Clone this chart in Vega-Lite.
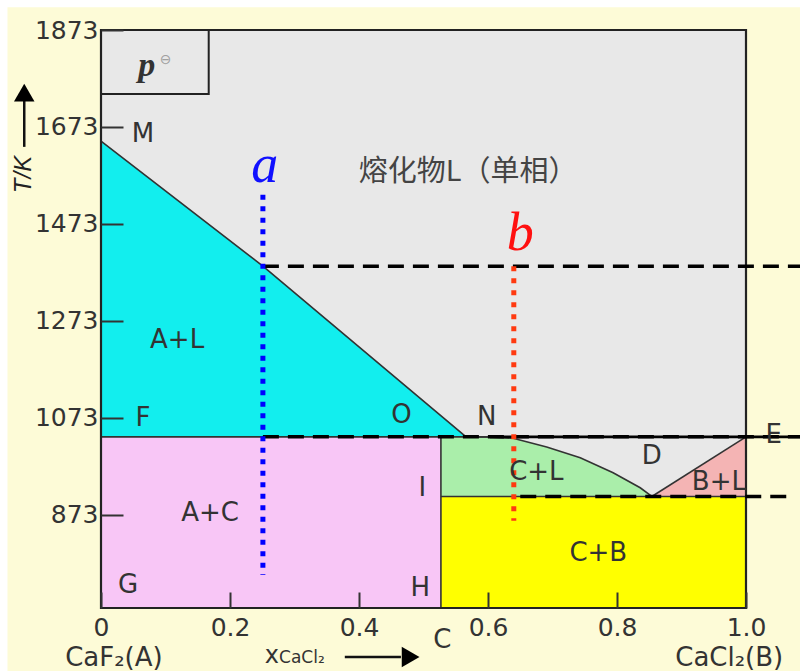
{
  "$schema": "https://vega.github.io/schema/vega-lite/v6.json",
  "autosize": "none",
  "width": 645,
  "height": 578,
  "padding": {"left": 101, "top": 30, "right": 54, "bottom": 63},
  "background": "#ffffff",
  "config": {
    "view": {"stroke": null},
    "axis": {
      "grid": false,
      "domain": false,
      "labelFont": "DejaVu Sans",
      "labelColor": "#333333",
      "labelFlush": false,
      "labelOverlap": false,
      "tickColor": "#333333",
      "tickWidth": 2,
      "title": null
    }
  },
  "datasets": {
    "blocks": [
      {"region": "paper", "x": -0.145, "x2": 1.09, "t": 1920, "t2": 530},
      {"region": "L", "x": 0, "x2": 1, "t": 681, "t2": 1873},
      {"region": "A+C", "x": 0, "x2": 0.527, "t": 681, "t2": 1034},
      {"region": "C+B", "x": 0.527, "x2": 1, "t": 681, "t2": 911}
    ],
    "areas": [
      {"region": "A+L", "x": 0, "t": 1644, "t2": 1034},
      {"region": "A+L", "x": 0.251, "t": 1386, "t2": 1034},
      {"region": "A+L", "x": 0.566, "t": 1034, "t2": 1034},
      {"region": "C+L", "x": 0.527, "t": 1034, "t2": 911},
      {"region": "C+L", "x": 0.6, "t": 1034, "t2": 911},
      {"region": "C+L", "x": 0.639, "t": 1031, "t2": 911},
      {"region": "C+L", "x": 0.691, "t": 1013, "t2": 911},
      {"region": "C+L", "x": 0.743, "t": 991, "t2": 911},
      {"region": "C+L", "x": 0.794, "t": 960, "t2": 911},
      {"region": "C+L", "x": 0.836, "t": 929, "t2": 911},
      {"region": "C+L", "x": 0.854, "t": 911, "t2": 911},
      {"region": "B+L", "x": 0.854, "t": 911, "t2": 911},
      {"region": "B+L", "x": 1.0, "t": 1034, "t2": 911}
    ],
    "edges": [
      {"seg": "liquidus A", "k": 1, "x": 0, "t": 1644},
      {"seg": "liquidus A", "k": 2, "x": 0.251, "t": 1386},
      {"seg": "liquidus A", "k": 3, "x": 0.566, "t": 1034},
      {"seg": "liquidus C", "k": 1, "x": 0.566, "t": 1034},
      {"seg": "liquidus C", "k": 2, "x": 0.6, "t": 1034},
      {"seg": "liquidus C", "k": 3, "x": 0.639, "t": 1031},
      {"seg": "liquidus C", "k": 4, "x": 0.691, "t": 1013},
      {"seg": "liquidus C", "k": 5, "x": 0.743, "t": 991},
      {"seg": "liquidus C", "k": 6, "x": 0.794, "t": 960},
      {"seg": "liquidus C", "k": 7, "x": 0.836, "t": 929},
      {"seg": "liquidus C", "k": 8, "x": 0.854, "t": 911},
      {"seg": "liquidus B", "k": 1, "x": 0.854, "t": 911},
      {"seg": "liquidus B", "k": 2, "x": 1.0, "t": 1034},
      {"seg": "eutectic upper", "k": 1, "x": 0, "t": 1034},
      {"seg": "eutectic upper", "k": 2, "x": 1.0, "t": 1034},
      {"seg": "eutectic lower", "k": 1, "x": 0.527, "t": 911},
      {"seg": "eutectic lower", "k": 2, "x": 1.0, "t": 911},
      {"seg": "compound C", "k": 1, "x": 0.527, "t": 681},
      {"seg": "compound C", "k": 2, "x": 0.527, "t": 1034}
    ],
    "dashes": [
      {"seg": "a liquidus", "x": 0.251, "t": 1386},
      {"seg": "a liquidus", "x": 1.084, "t": 1386},
      {"seg": "upper eutectic", "x": 0.251, "t": 1034},
      {"seg": "upper eutectic", "x": 1.084, "t": 1034},
      {"seg": "lower eutectic", "x": 0.65, "t": 911},
      {"seg": "lower eutectic", "x": 1.066, "t": 911}
    ],
    "heavy": [
      {"x": 0.603, "t": 1034},
      {"x": 1.084, "t": 1034}
    ],
    "pathA": [
      {"x": 0.251, "t": 1533},
      {"x": 0.251, "t": 749}
    ],
    "pathB": [
      {"x": 0.64, "t": 1386},
      {"x": 0.64, "t": 861}
    ],
    "tags": [
      {"label": "M", "x": 0.065, "t": 1658},
      {"label": "A+L", "x": 0.118, "t": 1234},
      {"label": "F", "x": 0.065, "t": 1073},
      {"label": "O", "x": 0.466, "t": 1079},
      {"label": "N", "x": 0.598, "t": 1075},
      {"label": "A+C", "x": 0.169, "t": 877},
      {"label": "I", "x": 0.498, "t": 929},
      {"label": "G", "x": 0.042, "t": 729},
      {"label": "H", "x": 0.495, "t": 723},
      {"label": "C+L", "x": 0.675, "t": 962},
      {"label": "D", "x": 0.854, "t": 995},
      {"label": "B+L", "x": 0.958, "t": 941},
      {"label": "E", "x": 1.043, "t": 1038},
      {"label": "C+B", "x": 0.771, "t": 795},
      {"label": "C", "x": 0.529, "t": 615},
      {"label": "CaF₂(A)", "x": 0.02, "t": 578},
      {"label": "CaCl₂(B)", "x": 0.974, "t": 578}
    ],
    "melt": [
      {"label": "熔化物L（单相）", "x": 0.569, "t": 1580}
    ],
    "refbox": [
      {"x": 0, "x2": 0.167, "t": 1741, "t2": 1873}
    ]
  },
  "layer": [
    {
      "data": {"name": "blocks"},
      "mark": {"type": "rect"},
      "encoding": {
        "x": {"field": "x", "type": "quantitative",
          "scale": {"domain": [0, 1], "nice": false, "zero": false},
          "axis": {"values": [0, 0.2, 0.4, 0.6, 0.8, 1.0], "tickSize": -16, "labelPadding": 23, "labelFontSize": 25, "zindex": 2,
            "labelExpr": "datum.value == 0 ? '0' : format(datum.value, '.1f')"}},
        "x2": {"field": "x2"},
        "y": {"field": "t", "type": "quantitative",
          "scale": {"domain": [681, 1873], "nice": false, "zero": false},
          "axis": {"values": [873, 1073, 1273, 1473, 1673, 1873], "format": "d", "tickSize": -22, "labelPadding": 25, "labelFontSize": 25, "zindex": 2}},
        "y2": {"field": "t2"},
        "color": {"field": "region", "type": "nominal", "legend": null,
          "scale": {"domain": ["paper", "L", "A+L", "A+C", "C+L", "B+L", "C+B"],
            "range": ["#fdfbd7", "#e8e8e8", "#12eeee", "#f8c6f6", "#aaeeaa", "#f4b4b4", "#ffff00"]}}
      }
    },
    {
      "data": {"name": "areas"},
      "mark": {"type": "area", "opacity": 1},
      "encoding": {
        "x": {"field": "x", "type": "quantitative"},
        "y": {"field": "t", "type": "quantitative"},
        "y2": {"field": "t2"},
        "detail": {"field": "region"},
        "color": {"field": "region", "type": "nominal", "legend": null}
      }
    },
    {
      "data": {"name": "refbox"},
      "mark": {"type": "rect", "fill": "#e8e8e8", "stroke": "#222222", "strokeWidth": 2},
      "encoding": {
        "x": {"field": "x", "type": "quantitative"},
        "x2": {"field": "x2"},
        "y": {"field": "t", "type": "quantitative"},
        "y2": {"field": "t2"}
      }
    },
    {
      "data": {"name": "edges"},
      "mark": {"type": "line", "color": "#333333", "strokeWidth": 1.6},
      "encoding": {
        "x": {"field": "x", "type": "quantitative"},
        "y": {"field": "t", "type": "quantitative"},
        "detail": {"field": "seg"},
        "order": {"field": "k"}
      }
    },
    {
      "data": {"name": "refbox"},
      "mark": {"type": "rect", "fill": null, "fillOpacity": 0, "stroke": "#222222", "strokeWidth": 2.2},
      "encoding": {
        "x": {"datum": 0, "type": "quantitative"},
        "x2": {"datum": 1},
        "y": {"datum": 681, "type": "quantitative"},
        "y2": {"datum": 1873}
      }
    },
    {
      "data": {"name": "dashes"},
      "mark": {"type": "line", "color": "#000000", "strokeWidth": 3.5, "strokeDash": [16, 9]},
      "encoding": {
        "x": {"field": "x", "type": "quantitative"},
        "y": {"field": "t", "type": "quantitative"},
        "detail": {"field": "seg"}
      }
    },
    {
      "data": {"name": "heavy"},
      "mark": {"type": "line", "color": "#000000", "strokeWidth": 2.6},
      "encoding": {
        "x": {"field": "x", "type": "quantitative"},
        "y": {"field": "t", "type": "quantitative"}
      }
    },
    {
      "data": {"name": "pathA"},
      "mark": {"type": "line", "color": "#0000ff", "strokeWidth": 5, "strokeDash": [5, 6.5]},
      "encoding": {
        "x": {"field": "x", "type": "quantitative"},
        "y": {"field": "t", "type": "quantitative"}
      }
    },
    {
      "data": {"name": "pathB"},
      "mark": {"type": "line", "color": "#ff3a10", "strokeWidth": 5, "strokeDash": [5, 7]},
      "encoding": {
        "x": {"field": "x", "type": "quantitative"},
        "y": {"field": "t", "type": "quantitative"}
      }
    },
    {
      "data": {"name": "tags"},
      "mark": {"type": "text", "font": "DejaVu Sans", "fontSize": 26, "color": "#333333", "baseline": "middle", "align": "center"},
      "encoding": {
        "x": {"field": "x", "type": "quantitative"},
        "y": {"field": "t", "type": "quantitative"},
        "text": {"field": "label"}
      }
    },
    {
      "data": {"name": "melt"},
      "mark": {"type": "text", "font": "Noto Sans CJK SC", "fontSize": 29, "color": "#444444", "baseline": "middle", "align": "center"},
      "encoding": {
        "x": {"field": "x", "type": "quantitative"},
        "y": {"field": "t", "type": "quantitative"},
        "text": {"field": "label"}
      }
    },
    {
      "data": {"values": [{"label": "a", "x": 0.254, "t": 1560}]},
      "mark": {"type": "text", "font": "Liberation Serif", "fontStyle": "italic", "fontSize": 54, "color": "#1010ff", "baseline": "alphabetic", "align": "center"},
      "encoding": {
        "x": {"field": "x", "type": "quantitative"},
        "y": {"field": "t", "type": "quantitative"},
        "text": {"field": "label"}
      }
    },
    {
      "data": {"values": [{"label": "b", "x": 0.65, "t": 1419}]},
      "mark": {"type": "text", "font": "Liberation Serif", "fontStyle": "italic", "fontSize": 54, "color": "#ff1010", "baseline": "alphabetic", "align": "center"},
      "encoding": {
        "x": {"field": "x", "type": "quantitative"},
        "y": {"field": "t", "type": "quantitative"},
        "text": {"field": "label"}
      }
    },
    {
      "data": {"values": [{"label": "p", "x": 0.071, "t": 1778}]},
      "mark": {"type": "text", "font": "Liberation Serif", "fontStyle": "italic", "fontWeight": "bold", "fontSize": 34, "color": "#333333", "baseline": "alphabetic", "align": "center"},
      "encoding": {
        "x": {"field": "x", "type": "quantitative"},
        "y": {"field": "t", "type": "quantitative"},
        "text": {"field": "label"}
      }
    },
    {
      "data": {"values": [{"label": "⊖", "x": 0.1, "t": 1811}]},
      "mark": {"type": "text", "font": "DejaVu Sans", "fontSize": 14, "color": "#a0a0a0", "baseline": "middle", "align": "center"},
      "encoding": {
        "x": {"field": "x", "type": "quantitative"},
        "y": {"field": "t", "type": "quantitative"},
        "text": {"field": "label"}
      }
    },
    {
      "data": {"values": [{"label": "T/K", "x": -0.12, "t": 1575}]},
      "mark": {"type": "text", "font": "Liberation Sans", "fontStyle": "italic", "fontSize": 24, "color": "#222222", "baseline": "middle", "align": "center", "angle": 270},
      "encoding": {
        "x": {"field": "x", "type": "quantitative"},
        "y": {"field": "t", "type": "quantitative"},
        "text": {"field": "label"}
      }
    },
    {
      "data": {"values": [{"label": "x", "x": 0.265, "t": 581}]},
      "mark": {"type": "text", "font": "DejaVu Sans", "fontSize": 24, "color": "#333333", "baseline": "middle", "align": "center"},
      "encoding": {
        "x": {"field": "x", "type": "quantitative"},
        "y": {"field": "t", "type": "quantitative"},
        "text": {"field": "label"}
      }
    },
    {
      "data": {"values": [{"label": "CaCl₂", "x": 0.276, "t": 577}]},
      "mark": {"type": "text", "font": "DejaVu Sans", "fontSize": 17, "color": "#333333", "baseline": "middle", "align": "left"},
      "encoding": {
        "x": {"field": "x", "type": "quantitative"},
        "y": {"field": "t", "type": "quantitative"},
        "text": {"field": "label"}
      }
    },
    {
      "data": {"values": [
        {"axisName": "T", "x": -0.119, "t": 1632, "x2": -0.119, "t2": 1729},
        {"axisName": "x", "x": 0.378, "t": 580, "x2": 0.465, "t2": 580}
      ]},
      "mark": {"type": "rule", "color": "#111111", "strokeWidth": 2.5},
      "encoding": {
        "x": {"field": "x", "type": "quantitative"},
        "y": {"field": "t", "type": "quantitative"},
        "x2": {"field": "x2"},
        "y2": {"field": "t2"}
      }
    },
    {
      "data": {"values": [{"x": -0.119, "t": 1744}]},
      "mark": {"type": "point", "shape": "triangle-up", "filled": true, "color": "#000000", "opacity": 1, "size": 420},
      "encoding": {
        "x": {"field": "x", "type": "quantitative"},
        "y": {"field": "t", "type": "quantitative"}
      }
    },
    {
      "data": {"values": [{"x": 0.48, "t": 580}]},
      "mark": {"type": "point", "shape": "triangle-right", "filled": true, "color": "#000000", "opacity": 1, "size": 420},
      "encoding": {
        "x": {"field": "x", "type": "quantitative"},
        "y": {"field": "t", "type": "quantitative"}
      }
    }
  ]
}
